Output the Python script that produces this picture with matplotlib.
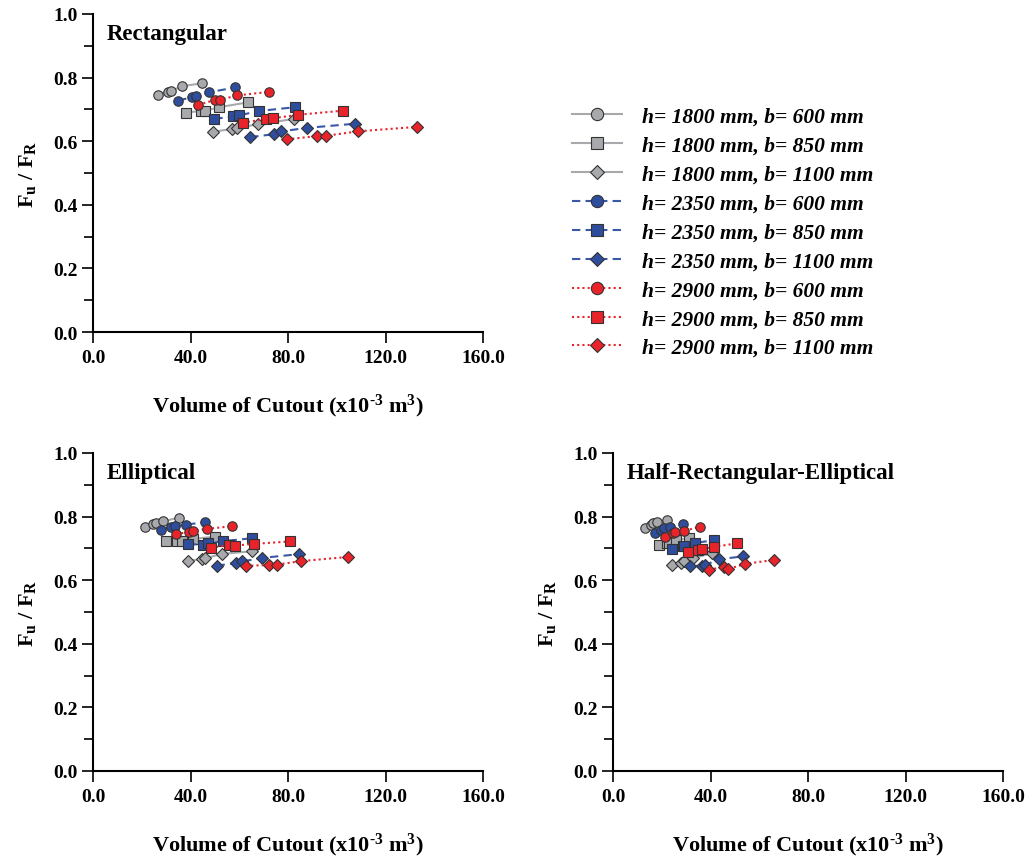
import matplotlib.pyplot as plt
from matplotlib.ticker import MultipleLocator, FormatStrFormatter

plt.rcParams["font.family"] = "Liberation Serif"
plt.rcParams["font.weight"] = "bold"
plt.rcParams["mathtext.fontset"] = "custom"
plt.rcParams["mathtext.rm"] = "Liberation Serif:bold"
plt.rcParams["mathtext.it"] = "Liberation Serif:bold"
plt.rcParams["mathtext.bf"] = "Liberation Serif:bold"

labels = [
    "h= 1800 mm, b= 600 mm",
    "h= 1800 mm, b= 850 mm",
    "h= 1800 mm, b= 1100 mm",
    "h= 2350 mm, b= 600 mm",
    "h= 2350 mm, b= 850 mm",
    "h= 2350 mm, b= 1100 mm",
    "h= 2900 mm, b= 600 mm",
    "h= 2900 mm, b= 850 mm",
    "h= 2900 mm, b= 1100 mm",
]

# Rectangular cutout
rect_x = [
    [26.5, 30.8, 32.1, 36.5, 44.7],
    [38.0, 44.3, 46.0, 51.8, 63.5],
    [49.2, 56.9, 59.0, 67.6, 82.5],
    [35.0, 40.5, 42.3, 47.7, 58.4],
    [49.8, 57.6, 59.8, 68.1, 83.0],
    [64.5, 74.3, 77.3, 87.9, 107.6],
    [43.2, 50.1, 52.1, 59.1, 72.2],
    [61.4, 71.0, 73.8, 84.0, 102.6],
    [79.6, 91.8, 95.6, 108.7, 132.8],
]
rect_y = [
    [0.746, 0.756, 0.758, 0.773, 0.782],
    [0.689, 0.696, 0.696, 0.707, 0.722],
    [0.630, 0.638, 0.642, 0.653, 0.670],
    [0.727, 0.739, 0.741, 0.754, 0.769],
    [0.670, 0.678, 0.681, 0.695, 0.707],
    [0.613, 0.622, 0.631, 0.642, 0.655],
    [0.714, 0.730, 0.730, 0.744, 0.755],
    [0.658, 0.670, 0.672, 0.683, 0.696],
    [0.606, 0.616, 0.617, 0.631, 0.645],
]

# Elliptical cutout
ell_x = [
    [21.2, 24.5, 25.7, 28.8, 35.3],
    [30.1, 34.6, 36.4, 41.2, 50.1],
    [38.8, 44.8, 45.9, 53.1, 65.1],
    [27.8, 32.0, 33.5, 38.0, 46.1],
    [39.1, 45.3, 47.3, 53.5, 65.4],
    [50.7, 58.7, 61.3, 69.3, 84.6],
    [34.1, 39.4, 41.2, 46.6, 57.0],
    [48.4, 55.9, 58.3, 65.9, 80.8],
    [62.8, 72.3, 75.4, 85.3, 104.5],
]
ell_y = [
    [0.768, 0.776, 0.781, 0.785, 0.797],
    [0.722, 0.722, 0.724, 0.730, 0.737],
    [0.661, 0.666, 0.669, 0.683, 0.691],
    [0.758, 0.768, 0.769, 0.775, 0.782],
    [0.713, 0.712, 0.716, 0.723, 0.732],
    [0.645, 0.655, 0.659, 0.670, 0.682],
    [0.744, 0.753, 0.756, 0.761, 0.770],
    [0.702, 0.711, 0.709, 0.714, 0.722],
    [0.645, 0.648, 0.649, 0.660, 0.673],
]

# Half-rectangular-elliptical cutout
hre_x = [
    [13.1, 15.5, 16.5, 18.1, 22.0],
    [18.9, 22.0, 22.9, 25.8, 31.3],
    [24.3, 28.1, 29.0, 33.0, 40.7],
    [17.2, 19.8, 20.8, 23.5, 28.8],
    [24.3, 28.6, 29.2, 33.6, 41.6],
    [31.7, 36.5, 37.9, 43.5, 53.5],
    [21.5, 24.5, 25.4, 29.1, 35.7],
    [30.6, 35.0, 36.4, 41.6, 51.0],
    [39.4, 45.7, 47.3, 54.0, 66.1],
]
hre_y = [
    [0.764, 0.775, 0.780, 0.783, 0.788],
    [0.710, 0.716, 0.718, 0.725, 0.734],
    [0.648, 0.655, 0.660, 0.670, 0.685],
    [0.749, 0.759, 0.763, 0.768, 0.778],
    [0.698, 0.707, 0.708, 0.717, 0.726],
    [0.644, 0.646, 0.648, 0.666, 0.675],
    [0.735, 0.748, 0.751, 0.755, 0.768],
    [0.688, 0.694, 0.697, 0.705, 0.716],
    [0.633, 0.642, 0.635, 0.651, 0.664],
]

face_colors = ["#a7a9ac"] * 3 + ["#2f4d9d"] * 3 + ["#e8232a"] * 3
line_colors = ["#a7a9ac"] * 3 + ["#3a58a8"] * 3 + ["#e8232a"] * 3
line_styles = ["-"] * 3 + [(0, (4, 2.5))] * 3 + [(0, (1, 1.5))] * 3
markers = ["o", "s", "D"] * 3
marker_sizes = [6.8, 6.8, 5.8] * 3

fig = plt.figure(figsize=(10.3, 8.62), dpi=100)

w, h = 390 / 1030, 318 / 862
ax_rect = fig.add_axes([93 / 1030, 1 - 333 / 862, w, h])
ax_ell = fig.add_axes([93 / 1030, 1 - 772 / 862, w, h])
ax_hre = fig.add_axes([613 / 1030, 1 - 772 / 862, w, h])

panels = [
    (ax_rect, rect_x, rect_y, "Rectangular"),
    (ax_ell, ell_x, ell_y, "Elliptical"),
    (ax_hre, hre_x, hre_y, "Half-Rectangular-Elliptical"),
]

handles = []
for ax, xs, ys, title in panels:
    handles = []
    for i in range(len(labels)):
        ln, = ax.plot(xs[i], ys[i], color=line_colors[i], linestyle=line_styles[i],
                      linewidth=1.5, marker=markers[i], markersize=marker_sizes[i],
                      markerfacecolor=face_colors[i], markeredgecolor="#333333",
                      markeredgewidth=0.8, label=labels[i])
        handles.append(ln)

    ax.set_xlim(0, 160)
    ax.set_ylim(0, 1.0)
    ax.xaxis.set_major_locator(MultipleLocator(40))
    ax.yaxis.set_major_locator(MultipleLocator(0.2))
    ax.yaxis.set_minor_locator(MultipleLocator(0.1))
    ax.xaxis.set_major_formatter(FormatStrFormatter("%.1f"))
    ax.yaxis.set_major_formatter(FormatStrFormatter("%.1f"))
    for side in ["top", "right"]:
        ax.spines[side].set_visible(False)
    for side in ["left", "bottom"]:
        ax.spines[side].set_linewidth(1.5)
    ax.tick_params(which="major", direction="out", length=8, width=1.2,
                   labelsize=14, pad=3)
    ax.tick_params(which="minor", direction="out", length=6.5, width=1.2)
    ax.tick_params(axis="x", which="major", pad=4)
    for lab in ax.get_xticklabels() + ax.get_yticklabels():
        lab.set_fontweight("bold")

    ax.text(5.7, 0.94, title, fontsize=16.5, fontweight="bold", va="center", ha="left")
    ax.set_xlabel(r"Volume of Cutout (x10$^{\text{-3}}$ m$^{3}$)", fontsize=16,
                  fontweight="bold", labelpad=19)
    ax.set_ylabel("$F_u$ / $F_R$", fontsize=16, fontweight="bold", labelpad=11)

fig.legend(handles=handles, loc="upper left",
           bbox_to_anchor=(561 / 1030, 1 - 97 / 862),
           frameon=False, borderpad=0,
           prop={"family": "Liberation Serif", "weight": "bold",
                 "style": "italic", "size": 15.5},
           handlelength=2.32, handletextpad=0.93, labelspacing=0.41,
           markerscale=1.3)

plt.savefig("out.png", dpi=100)
